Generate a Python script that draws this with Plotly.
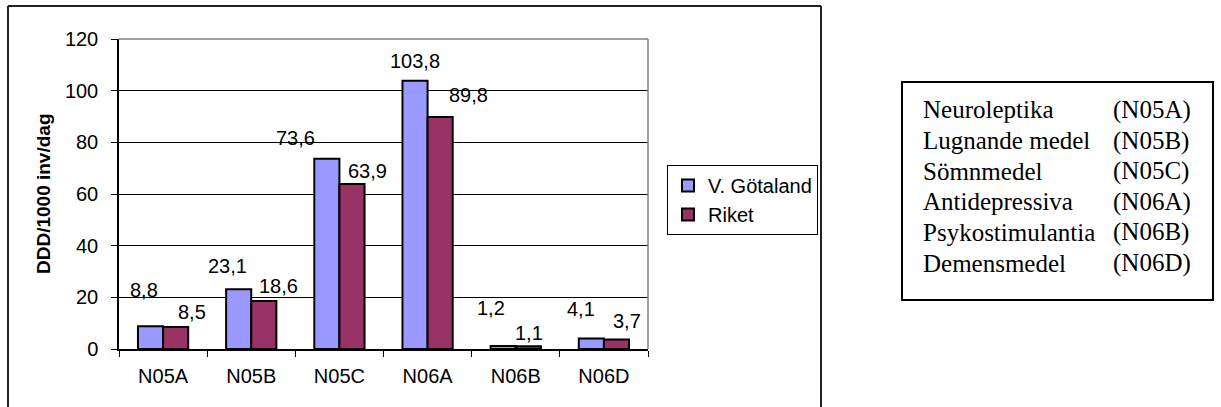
import plotly.graph_objects as go

categories = ["N05A", "N05B", "N05C", "N06A", "N06B", "N06D"]
vg_values = [8.8, 23.1, 73.6, 103.8, 1.2, 4.1]
riket_values = [8.5, 18.6, 63.9, 89.8, 1.1, 3.7]
series_names = ["V. Götaland", "Riket"]
group_names = ["Neuroleptika", "Lugnande medel", "Sömnmedel", "Antidepressiva",
               "Psykostimulantia", "Demensmedel"]
y_ticks = [0, 20, 40, 60, 80, 100, 120]
y_title = "DDD/1000 inv/dag"

# label offsets in px (style), relative to bar-top centre
vg_dx = [-7, -11, -31, 0, -12, -10]
vg_dy = [36, 23, 21, 20, 38, 29]
rk_dx = [16, 15, 16, 28, 1, 11]
rk_dy = [15, 15, 13, 22, 13, 18]

W_FIG, H_FIG = 1221, 407
L, R, T, B = 119, 648, 39, 349
PW, PH = R - L, B - T
BARGAP = 0.43
half = PW / len(categories) * (1 - BARGAP) / 4


def px_x(x):
    return (x - L) / PW


def px_y(y):
    return (B - y) / PH


ARIAL = "Liberation Sans, Arial, sans-serif"
TIMES = "Liberation Serif, Times New Roman, serif"
FS = 20

fig = go.Figure()
fig.add_trace(go.Bar(x=categories, y=vg_values, name=series_names[0],
                     marker=dict(color="#9999FF", line=dict(color="black", width=2))))
fig.add_trace(go.Bar(x=categories, y=riket_values, name=series_names[1],
                     marker=dict(color="#993366", line=dict(color="black", width=2))))

ann = []
for i, c in enumerate(categories):
    for vals, dx, dy, sgn in ((vg_values, vg_dx, vg_dy, -1), (riket_values, rk_dx, rk_dy, 1)):
        ann.append(dict(x=c, y=vals[i], xref="x", yref="y", showarrow=False,
                        text=f"{vals[i]:.1f}".replace(".", ","),
                        xshift=sgn * half + dx[i], yshift=dy[i],
                        xanchor="center", yanchor="middle",
                        font=dict(family=ARIAL, size=FS, color="black")))

# y-axis title
ann.append(dict(x=px_x(43), y=px_y(194), xref="paper", yref="paper", showarrow=False,
                text=f"<b>{y_title}</b>", textangle=-90, xanchor="center", yanchor="middle",
                font=dict(family=ARIAL, size=19, color="black")))

# right-hand explanation box text
for i, (nm, c) in enumerate(zip(group_names, categories)):
    yc = 110 + 30.6 * i
    ann.append(dict(x=px_x(921), y=px_y(yc), xref="paper", yref="paper", showarrow=False,
                    text=nm, xanchor="left", yanchor="middle",
                    font=dict(family=TIMES, size=25, color="black")))
    ann.append(dict(x=px_x(1111), y=px_y(yc), xref="paper", yref="paper", showarrow=False,
                    text=f"({c})", xanchor="left", yanchor="middle",
                    font=dict(family=TIMES, size=25, color="black")))

shapes = [
    # plot area top/right border (gray)
    dict(type="line", xref="paper", yref="paper", x0=0, x1=1, y0=1, y1=1,
         line=dict(color="#808080", width=1.5), layer="above"),
    dict(type="line", xref="paper", yref="paper", x0=1, x1=1, y0=0, y1=1,
         line=dict(color="#808080", width=1.5), layer="above"),
    # outer chart frame
    dict(type="line", xref="paper", yref="paper", x0=px_x(8), x1=px_x(8), y0=px_y(6), y1=px_y(410),
         line=dict(color="#222222", width=2)),
    dict(type="line", xref="paper", yref="paper", x0=px_x(8), x1=px_x(821), y0=px_y(6), y1=px_y(6),
         line=dict(color="#222222", width=2)),
    dict(type="line", xref="paper", yref="paper", x0=px_x(821), x1=px_x(821), y0=px_y(6), y1=px_y(410),
         line=dict(color="#222222", width=2)),
    # explanation box
    dict(type="rect", xref="paper", yref="paper", x0=px_x(902), x1=px_x(1213),
         y0=px_y(300), y1=px_y(82), line=dict(color="black", width=2)),
]

fig.update_layout(
    width=W_FIG, height=H_FIG,
    margin=dict(l=L, r=W_FIG - R, t=T, b=H_FIG - B, pad=0),
    paper_bgcolor="white", plot_bgcolor="white",
    barmode="group", bargap=BARGAP, bargroupgap=0,
    font=dict(family=ARIAL, size=FS, color="black"),
    showlegend=True,
    legend=dict(x=px_x(667), y=px_y(165), xanchor="left", yanchor="top",
                bordercolor="black", borderwidth=1, bgcolor="white",
                font=dict(family=ARIAL, size=FS, color="black"),
                tracegroupgap=0, itemwidth=30),
    annotations=ann, shapes=shapes,
    xaxis=dict(type="category", showline=True, linecolor="black", linewidth=1.5,
               ticks="outside", tickson="boundaries", ticklen=6, tickcolor="black",
               tickfont=dict(family=ARIAL, size=FS, color="black"),
               ticklabelstandoff=8, showgrid=False, zeroline=False),
    yaxis=dict(range=[0, 120], tickvals=y_ticks, showline=True, linecolor="black", linewidth=1.5,
               ticks="outside", ticklen=6, tickcolor="black",
               tickfont=dict(family=ARIAL, size=FS, color="black"),
               ticklabelstandoff=9, showgrid=True, gridcolor="black", gridwidth=1,
               zeroline=False),
)

fig.write_html("out.html", config={"displayModeBar": False},
               post_script="document.body.style.margin='0';document.body.style.overflow='hidden';")
